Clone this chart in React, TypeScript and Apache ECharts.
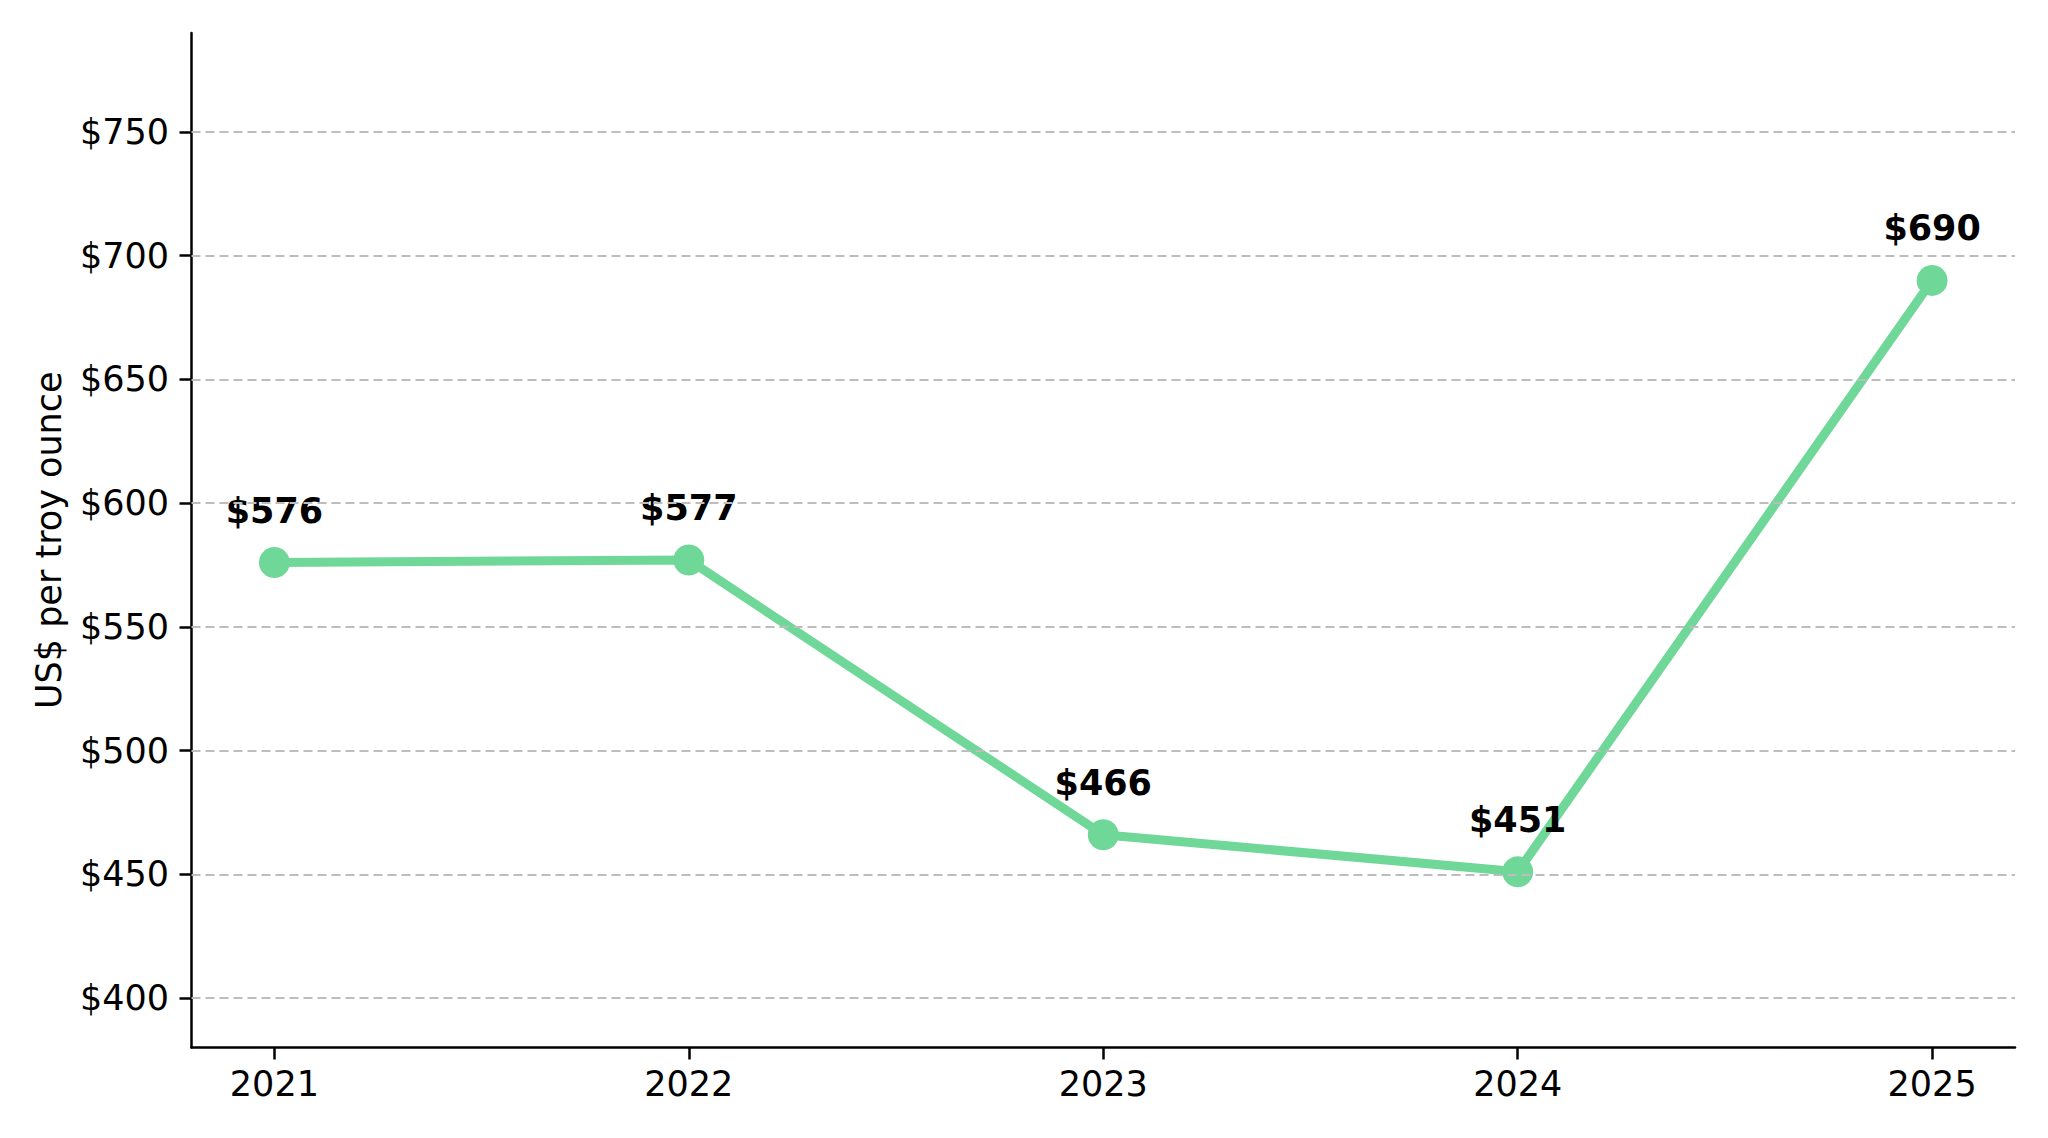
import React, { useEffect, useRef } from "react";
import * as echarts from "echarts";

const years = [2021, 2022, 2023, 2024, 2025];
const prices = [576, 577, 466, 451, 690];
const yTicks = [400, 450, 500, 550, 600, 650, 700, 750];
const yAxisName = "US$ per troy ounce";

const FONT = "DejaVu Sans";
const GREEN = "#6fd797";

export default function App() {
  const ref = useRef<HTMLDivElement>(null);
  useEffect(() => {
    if (!ref.current) return;
    const chart = echarts.init(ref.current, undefined, { renderer: "svg" });
    const data = years.map((y, i) => [y, prices[i]]);
    chart.setOption({
      animation: false,
      backgroundColor: "#ffffff",
      grid: { left: 191.5, right: 33, top: 33, bottom: 90.5 },
      xAxis: {
        type: "value",
        min: 2020.8,
        max: 2025.2,
        axisLine: { show: true, onZero: false, lineStyle: { color: "#000", width: 2.5 } },
        axisTick: { show: true, customValues: years, length: 12, lineStyle: { color: "#000", width: 2.5 } },
        axisLabel: {
          customValues: years,
          formatter: (v: number) => String(v),
          fontFamily: FONT,
          fontSize: 35,
          color: "#000",
          margin: 19,
        },
        splitLine: { show: false },
      },
      yAxis: {
        type: "value",
        min: 380,
        max: 790,
        name: yAxisName,
        nameLocation: "middle",
        nameRotate: 90,
        nameGap: 125,
        nameTextStyle: { fontFamily: FONT, fontSize: 35, color: "#000" },
        axisLine: { show: true, lineStyle: { color: "#000", width: 2.5 } },
        axisTick: { show: true, customValues: yTicks, length: 12, lineStyle: { color: "#000", width: 2.5 } },
        axisLabel: {
          customValues: yTicks,
          formatter: (v: number) => "$" + v,
          fontFamily: FONT,
          fontSize: 35,
          color: "#000",
          margin: 22.5,
        },
        splitLine: { show: false },
      },
      series: [
        {
          type: "line",
          z: 1,
          data: data,
          showSymbol: false,
          lineStyle: { opacity: 0 },
          silent: true,
          markLine: {
            silent: true,
            symbol: ["none", "none"],
            label: { show: false },
            lineStyle: { color: "#bdbdbd", type: [9, 5], width: 2 },
            data: yTicks.map((v) => ({ yAxis: v })),
          },
        },
        {
          type: "line",
          z: 3,
          data: data,
          symbol: "circle",
          symbolSize: 31,
          itemStyle: { color: GREEN },
          lineStyle: { color: GREEN, width: 9 },
          label: {
            show: true,
            position: "top",
            distance: 19,
            formatter: (p: any) => "$" + p.value[1],
            fontFamily: FONT,
            fontSize: 35,
            fontWeight: "bold",
            color: "#000",
          },
        },
      ],
    });
    return () => chart.dispose();
  }, []);
  return (
    <div
      ref={ref}
      style={{ position: "fixed", left: 0, top: 0, width: 2048, height: 1138 }}
    />
  );
}
